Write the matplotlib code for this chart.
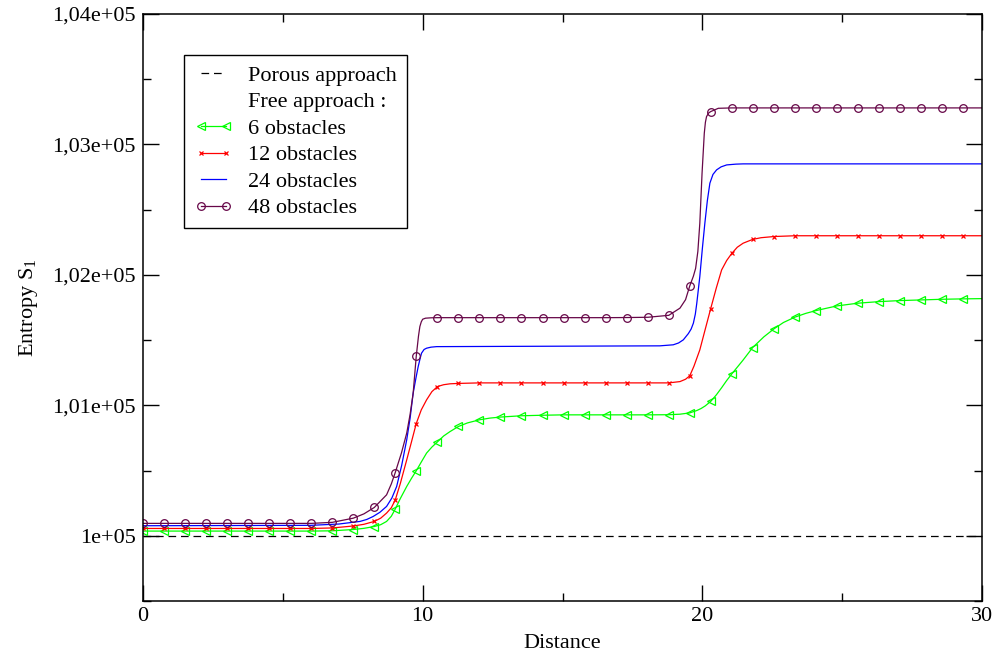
import numpy as np
import matplotlib
matplotlib.use("Agg")
import matplotlib.pyplot as plt
from matplotlib.lines import Line2D
from matplotlib.ticker import FixedLocator, MultipleLocator

plt.rcParams.update({
    "font.family": "Liberation Serif",
    "mathtext.fontset": "custom",
    "mathtext.rm": "Liberation Serif",
    "lines.scale_dashes": False,
})

# marker positions (every 10th sample of the curves)
MARK_X = [0.0, 0.75, 1.50, 2.26, 3.01, 3.76, 4.51, 5.26, 6.02, 6.77,
          7.52, 8.27, 9.02, 9.77, 10.53, 11.28, 12.03, 12.78, 13.53, 14.29,
          15.04, 15.79, 16.54, 17.29, 18.05, 18.80, 19.55, 20.30, 21.05, 21.80,
          22.56, 23.31, 24.06, 24.81, 25.56, 26.32, 27.07, 27.82, 28.57, 29.32]
X_END = 30.0

# porous approach
porous_x = [0.0, 30.0]
porous_y = [100000, 100000]

# 6 obstacles
g6_mark = [100036] * 9 + [100038, 100048, 100071, 100205, 100498, 100720, 100838,
           100889, 100910, 100920, 100924, 100927, 100927, 100927, 100927, 100927,
           100928, 100942, 101030, 101240, 101443, 101586, 101676, 101726, 101762,
           101783, 101795, 101803, 101808, 101813, 101816]
g6_extra_x = [7.90, 8.50, 8.71, 8.88, 9.20, 9.43, 9.60, 9.95, 10.14, 10.33, 10.75,
              10.98, 11.60, 12.40, 19.20, 19.80, 19.95, 20.10, 20.50, 20.69, 20.87,
              21.45, 22.20, 22.90, 23.70]
g6_extra_y = [100057, 100085, 100110, 100150, 100285, 100378, 100440, 100565,
              100634, 100680, 100765, 100799, 100865, 100902, 100932, 100960,
              100975, 100995, 101080, 101135, 101190, 101345, 101525, 101635, 101705]
g6_end = 101818

# 12 obstacles
g12_mark = [100056] * 9 + [100060, 100075, 100110, 100275, 100860, 101144, 101168,
            101172, 101172, 101172, 101172, 101172, 101172, 101172, 101172, 101172,
            101172, 101226, 101742, 102164, 102272, 102294, 102300, 102300, 102300,
            102300, 102300, 102300, 102300, 102300, 102300]
g12_extra_x = [7.90, 8.50, 8.71, 8.88, 9.20, 9.43, 9.60, 9.95, 10.14, 10.33, 10.75,
               10.98, 19.20, 19.40, 19.70, 19.91, 20.10, 20.50, 20.69, 20.87, 21.25,
               21.46, 22.10]
g12_extra_y = [100088, 100135, 100174, 100215, 100400, 100582, 100720, 100965,
               101042, 101105, 101158, 101165, 101182, 101200, 101300, 101425,
               101580, 101900, 102038, 102110, 102212, 102243, 102285]
g12_end = 102300

# 24 obstacles (line only)
g24_x = [0.0, 6.0, 7.0, 7.76, 8.00, 8.23, 8.47, 8.71, 8.90, 9.07, 9.25, 9.43,
         9.55, 9.66, 9.76, 9.84, 9.91, 9.96, 10.05, 10.14, 10.30, 10.50, 18.48,
         18.96, 19.15, 19.32, 19.50, 19.60, 19.68, 19.75, 19.80, 19.91, 20.00,
         20.09, 20.18, 20.27, 20.38, 20.51, 20.67, 20.87, 21.20, 21.46, 30.0]
g24_y = [100077, 100080, 100090, 100110, 100125, 100148, 100180, 100225, 100290,
         100378, 100540, 100736, 100900, 101093, 101210, 101297, 101360, 101400,
         101428, 101438, 101446, 101450, 101456, 101464, 101478, 101502, 101550,
         101585, 101630, 101700, 101780, 101987, 102200, 102396, 102570, 102703,
         102770, 102805, 102828, 102843, 102849, 102851, 102851]

# 48 obstacles
g48_mark = [100095] * 9 + [100103, 100135, 100217, 100485, 101375, 101672, 101672,
            101672, 101672, 101672, 101672, 101672, 101672, 101672, 101673, 101675,
            101690, 101915, 103252, 103280, 103280, 103280, 103280, 103280, 103280,
            103280, 103280, 103280, 103280, 103280, 103280]
g48_extra_x = [7.90, 8.71, 8.88, 9.24, 9.43, 9.55, 9.66, 9.85, 9.90, 9.95, 10.00,
               10.10, 10.30, 19.20, 19.40, 19.68, 19.76, 19.84, 19.91, 19.99, 20.07,
               20.11, 20.15, 20.22, 20.57]
g48_extra_y = [100168, 100314, 100398, 100634, 100787, 100930, 101093, 101530,
               101604, 101640, 101660, 101668, 101671, 101745, 101810, 101990,
               102050, 102180, 102396, 102779, 103086, 103170, 103213, 103240, 103277]
g48_end = 103280

Y_TICKS = [100000, 101000, 102000, 103000, 104000]
Y_LABELS = ["1e+05", "1,01e+05", "1,02e+05", "1,03e+05", "1,04e+05"]
X_TICKS = [0, 10, 20, 30]

FS = 16


def merged(mark_y, extra_x, extra_y, end_y):
    xs = np.array(MARK_X + extra_x + [X_END])
    ys = np.array(mark_y + extra_y + [end_y])
    order = np.argsort(xs, kind="stable")
    marks = [i for i, o in enumerate(order) if o < len(MARK_X)]
    return xs[order], ys[order], marks


fig = plt.figure(figsize=(10, 6.6), dpi=100)
ax = fig.add_axes([0.143, 0.0894, 0.839, 0.8894])

ax.plot(porous_x, porous_y, color="black", lw=0.9, dashes=(5.5, 3.5))

x6, y6, m6 = merged(g6_mark, g6_extra_x, g6_extra_y, g6_end)
ax.plot(x6, y6, color="#00ff00", lw=0.9, marker="<", ms=5.5, mfc="none",
        mec="#00ff00", mew=0.9, markevery=m6)

x12, y12, m12 = merged(g12_mark, g12_extra_x, g12_extra_y, g12_end)
ax.plot(x12, y12, color="#ff0000", lw=0.9, marker="x", ms=3.4,
        mec="#ff0000", mew=0.9, markevery=m12)

ax.plot(g24_x, g24_y, color="#0000ff", lw=0.9)

x48, y48, m48 = merged(g48_mark, g48_extra_x, g48_extra_y, g48_end)
ax.plot(x48, y48, color="#670748", lw=0.9, marker="o", ms=5.5, mfc="none",
        mec="#670748", mew=0.9, markevery=m48)

ax.set_xlim(0, 30)
ax.set_ylim(99500, 104000)
ax.xaxis.set_major_locator(FixedLocator(X_TICKS))
ax.xaxis.set_minor_locator(MultipleLocator(5))
ax.yaxis.set_major_locator(FixedLocator(Y_TICKS))
ax.set_yticklabels(Y_LABELS)
ax.yaxis.set_minor_locator(MultipleLocator(500))
ax.tick_params(which="both", direction="in", top=True, right=True,
               labelsize=FS, width=1.0)
ax.tick_params(axis="y", pad=5)
ax.tick_params(axis="x", pad=4)
ax.tick_params(which="major", length=11.5)
ax.tick_params(which="minor", length=5.8)
for sp in ax.spines.values():
    sp.set_linewidth(1.1)

ax.set_xlabel("Distance", fontsize=FS, labelpad=6)
ax.set_ylabel(r"Entropy S$_\mathregular{1}$", fontsize=FS, labelpad=9)

handles = [
    Line2D([], [], color="black", lw=0.9, dashes=(5.5, 3.5)),
    Line2D([], [], color="none"),
    Line2D([], [], color="#00ff00", lw=0.9, marker="<", ms=5.5, mfc="none", mew=0.9),
    Line2D([], [], color="#ff0000", lw=0.9, marker="x", ms=3.4, mew=0.9),
    Line2D([], [], color="#0000ff", lw=0.9),
    Line2D([], [], color="#670748", lw=0.9, marker="o", ms=5.5, mfc="none", mew=0.9),
]
labels = ["Porous approach", "Free approach :", "6 obstacles", "12 obstacles",
          "24 obstacles", "48 obstacles"]
leg = ax.legend(handles, labels, loc="upper left", bbox_to_anchor=(0.0489, 0.930),
                borderaxespad=0, fontsize=FS, numpoints=2, handlelength=1.75,
                handletextpad=0.7, labelspacing=0.27, borderpad=0.45,
                frameon=True, fancybox=False, framealpha=1, edgecolor="black")
leg.get_frame().set_linewidth(1.0)

fig.savefig("out.png", dpi=100)
